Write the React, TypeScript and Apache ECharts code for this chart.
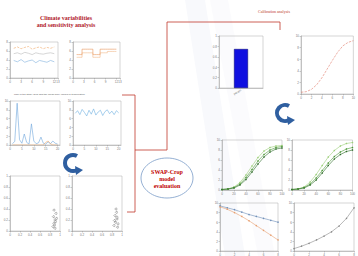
import React, { useEffect, useRef } from "react";
import * as echarts from "echarts";

const months = [1, 2, 3, 4, 5, 6, 7, 8, 9, 10, 11, 12];
const aOrange = [6.6, 6.9, 6.5, 6.8, 7.0, 6.4, 6.7, 6.9, 6.5, 6.8, 6.6, 6.9];
const aGray = [5.4, 5.6, 5.3, 5.7, 5.5, 5.2, 5.6, 5.4, 5.3, 5.5, 5.6, 5.4];
const aBlue = [3.9, 3.6, 4.1, 3.5, 3.8, 4.0, 3.4, 3.9, 3.7, 3.5, 3.9, 3.6];
const bOrange1 = [5.2, 5.2, 6.4, 6.4, 6.4, 5.2, 5.2, 6.4, 6.4, 6.4, 6.4, 6.4];
const bOrange2 = [4.6, 4.6, 5.6, 5.6, 5.6, 4.6, 4.6, 5.6, 5.6, 5.9, 5.9, 5.9];
const days = [1, 2, 3, 4, 5, 6, 7, 8, 9, 10, 11, 12, 13, 14, 15, 16, 17, 18, 19, 20];
const cBlue = [0.3, 0.8, 9.5, 1.2, 0.4, 2.5, 0.6, 0.2, 4.8, 0.9, 0.3, 0.5, 1.8, 0.4, 0.2, 0.7, 0.3, 0.9, 0.4, 0.2];
const cOrange = [0, 0, 0, 0, 0, 0, 0, 0, 0, 0, 0, 0, 0, 0, 0.6, 0.9, 0.3, 0, 0, 0];
const dBlue = [7.2, 7.8, 6.9, 8.1, 7.4, 6.6, 7.9, 7.0, 8.2, 6.8, 7.5, 7.9, 6.7, 7.6, 8.0, 7.1, 7.7, 6.9, 7.8, 7.3];
const eX = [0.86, 0.88, 0.9, 0.87, 0.92, 0.89, 0.91, 0.88, 0.9, 0.93];
const eY = [0.08, 0.14, 0.2, 0.26, 0.32, 0.11, 0.17, 0.38, 0.05, 0.23];
const fX = [0.84, 0.87, 0.9, 0.86, 0.89, 0.88, 0.91, 0.85, 0.9, 0.92];
const fY = [0.1, 0.16, 0.22, 0.28, 0.34, 0.4, 0.07, 0.19, 0.25, 0.13];
const barCats = ["param"];
const barVals = [0.75];
const sX = [0, 1, 2, 3, 4, 5, 6, 7, 8, 9, 10];
const sY = [0.3, 0.4, 0.8, 1.6, 2.8, 4.3, 5.8, 7.2, 8.3, 8.9, 9.2];
const gX = [0, 10, 20, 30, 40, 50, 60, 70, 80, 90, 100];
const g1a = [0.1, 0.2, 0.6, 1.5, 3.0, 4.8, 6.5, 7.8, 8.5, 8.8, 8.9];
const g1b = [0.1, 0.2, 0.5, 1.2, 2.5, 4.1, 5.8, 7.1, 8.0, 8.5, 8.7];
const g1c = [0.1, 0.2, 0.4, 1.0, 2.1, 3.6, 5.2, 6.6, 7.6, 8.2, 8.4];
const g2a = [0.1, 0.2, 0.6, 1.6, 3.1, 4.9, 6.6, 7.9, 8.8, 9.3, 9.5];
const g2b = [0.1, 0.2, 0.5, 1.2, 2.4, 3.9, 5.4, 6.7, 7.6, 8.2, 8.5];
const g2c = [0.1, 0.2, 0.4, 1.0, 2.0, 3.4, 4.9, 6.2, 7.1, 7.7, 8.0];
const hX = [0, 1, 2, 3, 4, 5, 6, 7, 8];
const hBlue = [9.4, 9.0, 8.6, 8.1, 7.6, 7.2, 6.8, 6.4, 6.0];
const hOrange = [9.2, 8.7, 8.0, 7.2, 6.3, 5.3, 4.3, 3.3, 2.3];
const kX = [0, 1, 2, 3, 4, 5, 6, 7, 8];
const kY = [0.5, 1.0, 1.6, 2.3, 3.1, 4.0, 5.2, 6.8, 9.0];

const grids = [
  { left: 10, top: 42, width: 48, height: 36 },
  { left: 73, top: 42, width: 47, height: 36 },
  { left: 10, top: 101, width: 50, height: 44 },
  { left: 73, top: 101, width: 48, height: 44 },
  { left: 10, top: 176, width: 50, height: 55 },
  { left: 72, top: 176, width: 50, height: 55 },
  { left: 219, top: 36, width: 44, height: 52 },
  { left: 301, top: 36, width: 55, height: 58 },
  { left: 222, top: 140, width: 60, height: 50 },
  { left: 292, top: 140, width: 62, height: 50 },
  { left: 220, top: 203, width: 58, height: 53 },
  { left: 294, top: 203, width: 60, height: 53 },
];

const lbl = { fontSize: 3, color: "#777", margin: 2 };
const axLine = { lineStyle: { color: "#999", width: 0.5 } };

function mkX(i: number, min: number, max: number, type = "value") {
  return {
    gridIndex: i, type, min, max,
    axisLine: axLine, axisTick: { length: 1.5, lineStyle: { color: "#999", width: 0.5 } },
    axisLabel: lbl, splitLine: { show: false },
  } as any;
}
function mkY(i: number, min: number, max: number) {
  return {
    gridIndex: i, type: "value", min, max,
    axisLine: { show: true, ...axLine }, axisTick: { show: true, length: 1.5, lineStyle: { color: "#999", width: 0.5 } },
    axisLabel: lbl, splitLine: { show: false },
  } as any;
}
const pair = (xs: number[], ys: number[]) => xs.map((x, i) => [x, ys[i]]);

export default function App() {
  const ref = useRef<HTMLDivElement>(null);
  useEffect(() => {
    if (!ref.current) return;
    const chart = echarts.init(ref.current, undefined, { renderer: "svg" });
    const ln = (i: number, xs: number[], ys: number[], color: string, dashed = false, marks = false) => ({
      type: "line", xAxisIndex: i, yAxisIndex: i, data: pair(xs, ys),
      symbol: marks ? "circle" : "none", symbolSize: 1.5,
      itemStyle: { color },
      lineStyle: { color, width: 0.6, type: dashed ? "dashed" : "solid" },
    });
    const xAxes = [
      mkX(0, 0, 13), mkX(1, 0, 13), mkX(2, 0, 21), mkX(3, 0, 21),
      mkX(4, 0, 1), mkX(5, 0, 1),
      { ...mkX(6, 0, 0, "category"), min: undefined, max: undefined, data: barCats, axisLabel: { ...lbl, rotate: 30 } },
      mkX(7, 0, 10), mkX(8, 0, 100), mkX(9, 0, 100), mkX(10, 0, 8), mkX(11, 0, 8),
    ];
    const yAxes = [
      mkY(0, 0, 8), mkY(1, 0, 8), mkY(2, 0, 10), mkY(3, 0, 10),
      mkY(4, 0, 1), mkY(5, 0, 1), mkY(6, 0, 1), mkY(7, 0, 10),
      mkY(8, 0, 10), mkY(9, 0, 10), mkY(10, 0, 10), mkY(11, 0, 10),
    ];
    const series: any[] = [
      ln(0, months, aOrange, "#f0a868", true),
      ln(0, months, aGray, "#bbbbbb"),
      ln(0, months, aBlue, "#7fb0de"),
      { ...ln(1, months, bOrange1, "#e8955a"), step: "middle" },
      { ...ln(1, months, bOrange2, "#f2b98a"), step: "middle" },
      ln(2, days, cBlue, "#6fa6dc"),
      ln(2, days, cOrange, "#f0a868"),
      ln(3, days, dBlue, "#6fb0e0"),
      { type: "scatter", xAxisIndex: 4, yAxisIndex: 4, data: pair(eX, eY), symbolSize: 2, itemStyle: { color: "#fff", borderColor: "#555", borderWidth: 0.5 } },
      { type: "scatter", xAxisIndex: 5, yAxisIndex: 5, data: pair(fX, fY), symbolSize: 2, itemStyle: { color: "#fff", borderColor: "#555", borderWidth: 0.5 } },
      { type: "bar", xAxisIndex: 6, yAxisIndex: 6, data: barVals, barWidth: 14, itemStyle: { color: "#1010e0", borderColor: "#000066", borderWidth: 0.5 } },
      ln(7, sX, sY, "#e07a6a", true),
      ln(8, gX, g1a, "#9ccf7a", false, true),
      ln(8, gX, g1b, "#4f9a3a", false, true),
      ln(8, gX, g1c, "#2e6b28", false, true),
      ln(9, gX, g2a, "#9ccf7a", false, true),
      ln(9, gX, g2b, "#4f9a3a", false, true),
      ln(9, gX, g2c, "#2e6b28", false, true),
      ln(10, hX, hBlue, "#6f8fb8", false, true),
      ln(10, hX, hOrange, "#e8a070", false, true),
      ln(11, kX, kY, "#8a8a8a", false, true),
    ];
    const red = "#c0392b";
    const arrow = (cx: number, cy: number) => [
      { type: "arc", shape: { cx, cy, r: 8, startAngle: Math.PI / 3, endAngle: (5 * Math.PI) / 3, clockwise: true }, style: { stroke: "#2f5fa0", lineWidth: 4, fill: "none" } },
      { type: "polygon", shape: { points: [[cx + 2, cy + 3], [cx + 10, cy + 7], [cx + 3, cy + 12]] }, style: { fill: "#2f5fa0" } },
    ];
    chart.setOption({
      animation: false,
      backgroundColor: "#ffffff",
      grid: grids.map((g) => ({ ...g, show: true, borderColor: "#aaa", borderWidth: 0.5, containLabel: false })),
      xAxis: xAxes,
      yAxis: yAxes,
      series,
      graphic: [
        { type: "polygon", z: -10, shape: { points: [[185, 0], [205, 0], [245, 256], [225, 256]] }, style: { fill: "rgba(200,205,230,0.12)" } },
        { type: "polygon", z: -10, shape: { points: [[210, 0], [228, 0], [275, 256], [258, 256]] }, style: { fill: "rgba(215,220,235,0.1)" } },
        { type: "text", x: 66, y: 14, style: { text: "Climate variabilities\nand sensitivity analysis", fill: "#b0202a", font: "bold 6px 'Liberation Serif'", align: "center", lineHeight: 7 } },
        { type: "text", x: 274, y: 9, style: { text: "Calibration analysis", fill: red, font: "4px 'Liberation Serif'", align: "center" } },
        { type: "text", x: 14, y: 93, style: { text: "Map of the study area and the mean daily values of temperature", fill: "#555", font: "2.5px 'Liberation Sans'" } },
        { type: "polyline", shape: { points: [[167, 150], [167, 22], [280, 22], [280, 30]] }, style: { stroke: red, lineWidth: 0.8, fill: "none" } },
        { type: "polyline", shape: { points: [[122, 95], [135, 95], [135, 212], [127, 212]] }, style: { stroke: red, lineWidth: 0.8, fill: "none" } },
        { type: "line", shape: { x1: 135, y1: 150, x2: 167, y2: 150 }, style: { stroke: red, lineWidth: 0.8 } },
        { type: "ellipse", shape: { cx: 167, cy: 178, rx: 26, ry: 20 }, style: { fill: "#ffffff", stroke: "#7a9cc8", lineWidth: 0.8 } },
        { type: "text", x: 167, y: 168, style: { text: "SWAP-Crop\nmodel\nevaluation", fill: "#c00000", font: "bold 6px 'Liberation Serif'", align: "center", lineHeight: 7 } },
        ...arrow(285, 113),
        ...arrow(73, 163),
      ],
    });
    return () => chart.dispose();
  }, []);
  return <div ref={ref} style={{ width: 358, height: 256, position: "absolute", left: 0, top: 0 }} />;
}
